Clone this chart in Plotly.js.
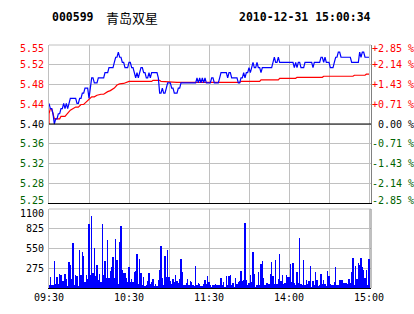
<!DOCTYPE html>
<html>
<head>
<meta charset="utf-8">
<script src="https://cdn.plot.ly/plotly-3.0.1.min.js"></script>
<style>html,body{margin:0;padding:0;background:#fff;}#chart{width:414px;height:314px;}</style>
</head>
<body>
<div id="chart"></div>
<script>
// ---- data ----
const stockCode = '000599';
const stockName = '青岛双星';
const stamp = '2010-12-31 15:00:34';
const prevClose = 5.40;
const pctLimit = 2.85;

const timeLabels = ['09:30', '10:30', '11:30', '14:00', '15:00'];

const priceTickText = ['5.55', '5.52', '5.48', '5.44', '5.40', '5.36', '5.32', '5.28', '5.25'];
const pctTickText = ['+2.85 %', '+2.14 %', '+1.43 %', '+0.71 %', '\u00a00.00 %', '-0.71 %', '-1.43 %', '-2.14 %', '-2.85 %'];
const volTickText = ['275', '550', '825', '1100'];
const volTickVals = [275, 550, 825, 1100];

const priceMorning = [
  5.44,5.43,5.43,5.42,5.40,5.41,5.41,5.42,5.42,5.43,
  5.43,5.44,5.43,5.44,5.43,5.44,5.45,5.45,5.45,5.45,
  5.45,5.44,5.44,5.45,5.45,5.46,5.46,5.47,5.47,5.47,
  5.45,5.47,5.49,5.49,5.48,5.48,5.48,5.49,5.49,5.49,
  5.49,5.49,5.50,5.50,5.50,5.51,5.51,5.51,5.51,5.52,
  5.53,5.53,5.54,5.53,5.53,5.52,5.52,5.51,5.51,5.51,
  5.52,5.52,5.51,5.51,5.50,5.49,5.50,5.49,5.50,5.51,
  5.51,5.50,5.50,5.49,5.49,5.50,5.49,5.50,5.50,5.50,
  5.50,5.50,5.49,5.46,5.46,5.47,5.46,5.46,5.47,5.48,
  5.48,5.48,5.47,5.47,5.46,5.46,5.46,5.47,5.47,5.48,
  5.48,5.48,5.48,5.48,5.48,5.48,5.48,5.48,5.48,5.48,
  5.48,5.49,5.48,5.49,5.48,5.49,5.48,5.49,5.48,5.48,
  5.48
];
const priceAfternoon = [
  5.48,5.49,5.49,5.48,5.48,5.48,5.48,5.49,5.50,5.50,
  5.50,5.50,5.50,5.49,5.50,5.50,5.49,5.49,5.49,5.49,
  5.49,5.48,5.48,5.49,5.49,5.50,5.49,5.50,5.50,5.51,
  5.50,5.51,5.52,5.51,5.51,5.52,5.51,5.51,5.50,5.51,
  5.51,5.51,5.51,5.51,5.51,5.51,5.51,5.52,5.53,5.52,
  5.52,5.53,5.52,5.52,5.52,5.52,5.52,5.52,5.52,5.52,
  5.52,5.52,5.52,5.51,5.52,5.51,5.52,5.52,5.51,5.51,
  5.51,5.52,5.52,5.52,5.52,5.52,5.52,5.51,5.52,5.52,
  5.52,5.52,5.52,5.53,5.53,5.52,5.53,5.52,5.52,5.52,
  5.51,5.51,5.51,5.52,5.53,5.53,5.54,5.54,5.53,5.53,
  5.53,5.53,5.53,5.53,5.53,5.53,5.52,5.52,5.52,5.52,
  5.52,5.52,5.54,5.53,5.54,5.54,5.53,5.53,5.53,5.53
];

// average-price line, read at its break points (minute index, price)
const avgMinute = [0,0,1,2,3,4,8,9,12,14,16,20,22,24,26,28,30,32,34,36,39,41,44,46,49,51,53,56,60,77,78,83,84,96,112,143,144,158,159,172,173,185,186,205,206,228,229,237,238,240];
const avgPrice  = [5.40,5.42,5.43,5.43,5.42,5.41,5.41,5.415,5.415,5.42,5.427,5.433,5.433,5.438,5.438,5.443,5.448,5.453,5.453,5.456,5.458,5.458,5.463,5.465,5.47,5.476,5.478,5.479,5.483,5.483,5.485,5.485,5.483,5.481,5.481,5.481,5.483,5.483,5.486,5.486,5.489,5.489,5.491,5.491,5.493,5.493,5.495,5.495,5.497,5.497];

const volMorning = [
  46,148,46,46,380,56,153,56,195,186,
  93,93,195,130,23,362,325,130,626,46,
  176,167,23,529,186,500,445,84,176,125,
  890,186,1002,209,556,167,315,116,195,79,
  890,186,380,139,668,139,241,288,427,139,
  677,390,56,640,863,250,204,204,139,84,
  288,84,130,84,223,232,473,56,400,204,
  46,158,28,46,93,204,56,84,130,28,
  56,28,111,250,580,139,46,440,148,529,
  148,93,56,121,84,176,93,74,130,404,
  223,37,37,74,121,37,93,84,37,28,
  300,37,65,56,28,28,56,111,56,162,
  84
];
const volAfternoon = [
  37,19,37,37,56,37,46,46,
  139,37,84,19,167,46,167,176,46,74,
  19,139,56,84,102,232,102,116,905,111,
  46,65,176,84,501,195,19,37,223,
  46,334,371,139,46,70,74,56,
  195,362,162,56,390,56,130,473,93,186,
  56,65,186,158,148,334,84,348,70,
  46,223,74,696,56,37,390,37,111,56,
  102,302,19,102,37,223,111,28,37,
  195,56,111,56,28,241,167,56,37,37,
  84,288,37,37,111,111,111,74,65,
  74,56,130,74,223,418,37,306,121,
  353,325,418,288,250,139,250,37,408
];

// ---- build ----
const price = priceMorning.concat(priceAfternoon);
const volume = volMorning.concat(volAfternoon);
const minutes = price.map((_, i) => i);

const pctSteps = [4,3,2,1,0,-1,-2,-3,-4];
const pctVals = pctSteps.map(s => pctLimit * s / 4);
const priceVals = pctVals.map(p => prevClose * (1 + p / 100));
const colorFor = s => s > 0 ? '#ff0000' : (s < 0 ? '#006400' : '#000000');
// end labels are kept inside the frame, as in the original
const edgeShift = s => s === 4 ? -3 : (s === -4 ? 3 : 0);

const gridVals = [0,30,60,90,120,150,180,210,240];
const gridText = gridVals.map((v, k) => k % 2 === 0 ? timeLabels[k / 2] : '');

const yLo = prevClose * (1 - pctLimit / 100);
const yHi = prevClose * (1 + pctLimit / 100);
const xRange = [0, 241.5];
const mono = 'DejaVu Sans Mono';
const grid = '#c0c0c0';

const traces = [
  {x: minutes, y: volume, type: 'bar', xaxis: 'x2', yaxis: 'y3',
   marker: {color: '#0000ff', line: {width: 0}}, width: 0.8, hoverinfo: 'skip'},
  {x: avgMinute, y: avgPrice, type: 'scatter', mode: 'lines', xaxis: 'x', yaxis: 'y',
   line: {color: '#ff0000', width: 1.2}, hoverinfo: 'skip'},
  {x: minutes, y: price, type: 'scatter', mode: 'lines', xaxis: 'x', yaxis: 'y',
   line: {color: '#0000ff', width: 1.2}, hoverinfo: 'skip'},
  {x: [0], y: [0], type: 'scatter', mode: 'markers', xaxis: 'x', yaxis: 'y2',
   marker: {opacity: 0}, hoverinfo: 'skip'}
];

const annotations = [
  {text: stockCode, xref: 'paper', yref: 'paper', x: 0.003, y: 1.115, xanchor: 'left', yanchor: 'middle',
   showarrow: false, font: {family: mono, size: 11.5, color: '#000', weight: 'bold'}},
  {text: stockName, xref: 'paper', yref: 'paper', x: 0.171, y: 1.115, xanchor: 'left', yanchor: 'middle',
   showarrow: false, font: {family: 'Noto Sans CJK SC', size: 13, color: '#000'}},
  {text: stamp, xref: 'paper', yref: 'paper', x: 0.584, y: 1.115, xanchor: 'left', yanchor: 'middle',
   showarrow: false, font: {family: mono, size: 11.5, color: '#000', weight: 'bold'}}
];
priceTickText.forEach((t, k) => annotations.push({
  text: t, xref: 'paper', yref: 'y', x: 0, y: priceVals[k], xanchor: 'right', yanchor: 'middle',
  xshift: -3, yshift: edgeShift(pctSteps[k]), showarrow: false,
  font: {family: mono, size: 10, color: colorFor(pctSteps[k])}
}));
pctTickText.forEach((t, k) => annotations.push({
  text: t, xref: 'paper', yref: 'y2', x: 1, y: pctVals[k], xanchor: 'left', yanchor: 'middle',
  xshift: -1, yshift: edgeShift(pctSteps[k]), showarrow: false,
  font: {family: mono, size: 10, color: colorFor(pctSteps[k])}
}));
volTickText.forEach((t, k) => annotations.push({
  text: t, xref: 'paper', yref: 'y3', x: 0, y: volTickVals[k], xanchor: 'right', yanchor: 'middle',
  xshift: -3, yshift: k === volTickVals.length - 1 ? -4 : 0, showarrow: false,
  font: {family: mono, size: 10, color: '#000'}
}));

const layout = {
  width: 414, height: 314,
  margin: {l: 49, r: 43, t: 45, b: 26, pad: 0},
  paper_bgcolor: '#ffffff', plot_bgcolor: '#ffffff',
  showlegend: false, bargap: 0,
  font: {family: mono, size: 10, color: '#000'},
  xaxis: {domain: [0, 1], anchor: 'y', range: xRange, tickvals: gridVals, showticklabels: false,
          showgrid: true, gridcolor: grid, gridwidth: 1, zeroline: false, ticks: '',
          showline: true, linecolor: '#000000', linewidth: 1, fixedrange: true},
  yaxis: {domain: [0.3498, 1], anchor: 'x', range: [yLo, yHi], tickvals: priceVals, showticklabels: false,
          showgrid: true, gridcolor: grid, zeroline: false, ticks: '',
          showline: true, linecolor: grid, linewidth: 1, fixedrange: true},
  yaxis2: {overlaying: 'y', side: 'right', anchor: 'x', range: [-pctLimit, pctLimit], tickvals: pctVals, showticklabels: false,
           showgrid: false, zeroline: false, ticks: '', showline: true, linecolor: '#808080', linewidth: 1,
           fixedrange: true},
  xaxis2: {domain: [0, 1], anchor: 'y3', range: xRange, tickvals: gridVals, ticktext: gridText,
           showgrid: true, gridcolor: grid, zeroline: false, ticks: '',
           showline: true, linecolor: '#000000', linewidth: 1,
           tickfont: {family: mono, size: 10, color: '#000'}, fixedrange: true},
  yaxis3: {domain: [0, 0.3251], anchor: 'x2', range: [0, 1100], tickvals: volTickVals, showticklabels: false,
           showgrid: true, gridcolor: grid, zeroline: false, ticks: '',
           showline: true, linecolor: grid, linewidth: 1, fixedrange: true},
  shapes: [
    {type: 'line', xref: 'x domain', yref: 'y domain', x0: 0, x1: 1, y0: 1, y1: 1, line: {color: grid, width: 1}},
    {type: 'line', xref: 'x domain', yref: 'y', x0: 0, x1: 1, y0: prevClose, y1: prevClose, line: {color: '#000000', width: 1}},
    {type: 'line', xref: 'x2 domain', yref: 'y3 domain', x0: 0, x1: 1, y0: 1, y1: 1, line: {color: grid, width: 1}},
    {type: 'line', xref: 'x2 domain', yref: 'y3 domain', x0: 1, x1: 1, y0: 0, y1: 1, line: {color: '#808080', width: 1}}
  ],
  annotations: annotations
};

Plotly.newPlot('chart', traces, layout, {staticPlot: true, displayModeBar: false});
</script>
</body>
</html>
